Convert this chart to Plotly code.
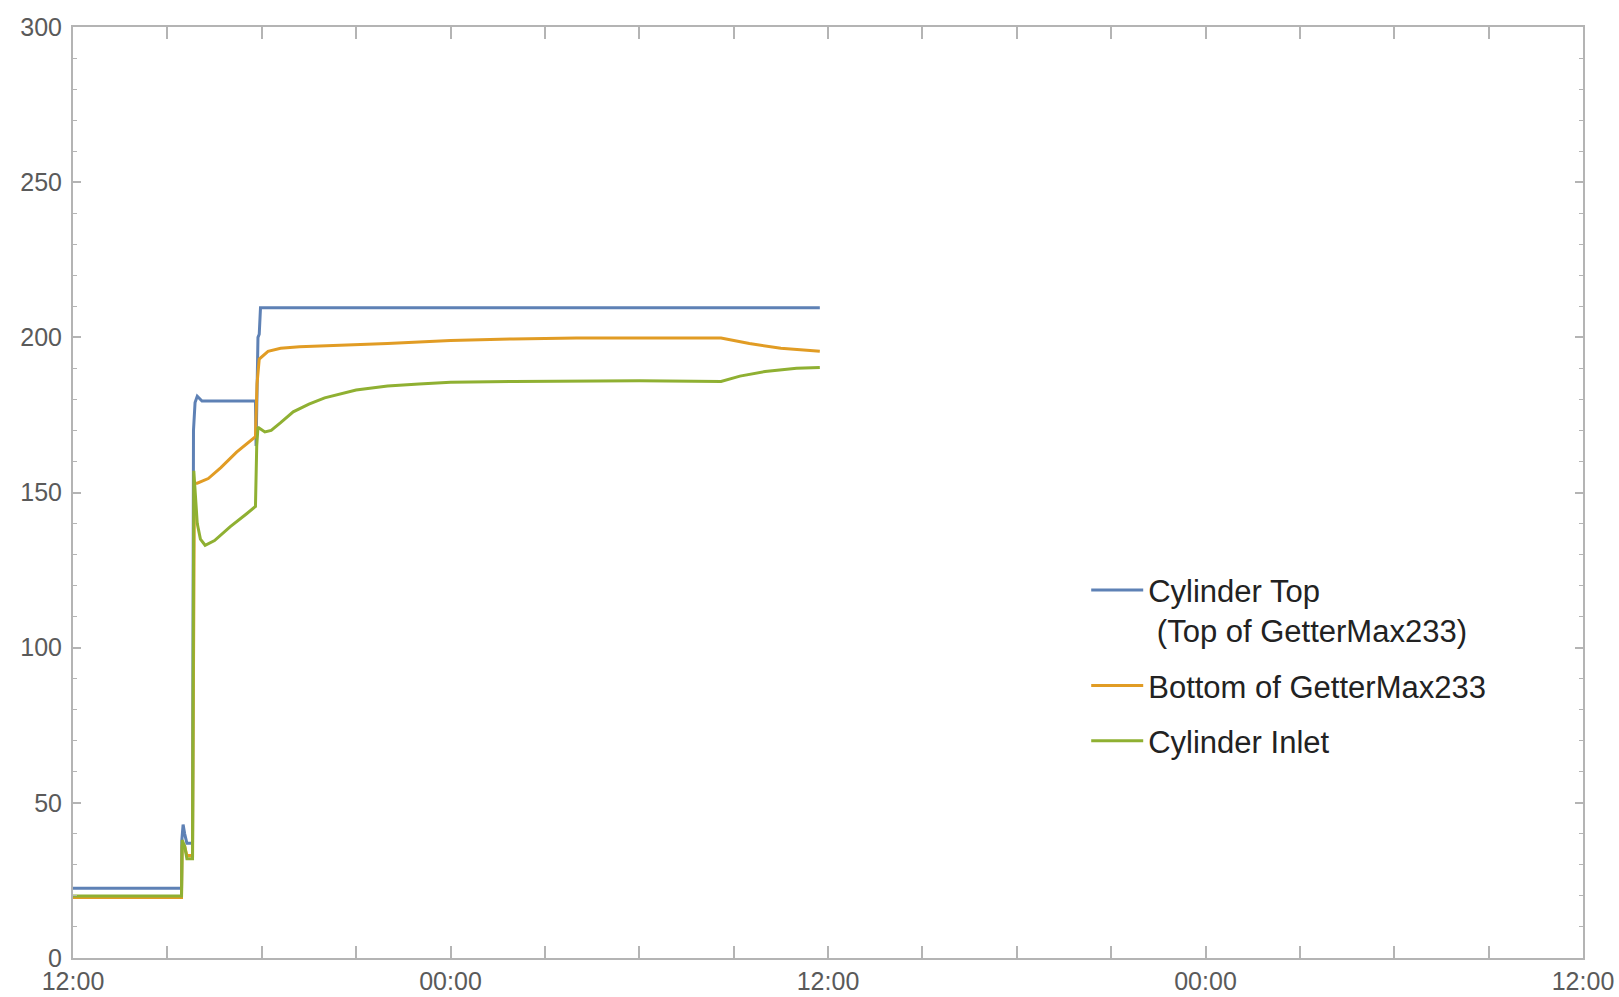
import pandas as pd
import plotly.graph_objects as go

base = pd.Timestamp("2000-01-01 12:00")

# Hours since 12:00 on day 1
top_h = [0, 3.45, 3.46, 3.50, 3.55, 3.62, 3.80, 3.83, 3.88, 3.95, 4.1, 5.80, 5.82, 5.88, 5.92, 5.96, 23.74]
top_v = [22.5, 22.5, 38, 43, 40, 37, 37, 170, 179, 181, 179.5, 179.5, 165, 200, 201, 209.5, 209.5]

bot_h = [0, 3.45, 3.47, 3.55, 3.62, 3.80, 3.86, 3.95, 4.3, 4.7, 5.2, 5.6, 5.80, 5.85, 5.92, 6.2, 6.6,
         7.2, 8, 9, 10, 11, 12, 14, 16, 18, 20.6, 21.5, 22.5, 23.74]
bot_v = [19.5, 19.5, 36, 36, 33, 33, 153, 153, 154.5, 158, 163, 166.5, 168, 185, 193, 195.5, 196.5,
         197, 197.3, 197.5, 198, 198.5, 199, 199.5, 199.8, 199.8, 199.8, 198, 196.5, 195.5]

inl_h = [0, 3.45, 3.47, 3.55, 3.62, 3.80, 3.84, 3.88, 3.95, 4.05, 4.2, 4.5, 5.0, 5.5, 5.80, 5.84, 5.88,
         6.1, 6.3, 6.6, 7, 7.5, 8, 9, 10, 11, 12, 14, 16, 18, 20.6, 21.2, 22, 23, 23.74]
inl_v = [20, 20, 38, 36, 32, 32, 157, 150, 140, 135, 133, 134.5, 139, 143, 145.5, 165, 171,
         169.5, 170, 172.5, 176, 178.5, 180.5, 183, 184.3, 185, 185.5, 185.8, 186, 186, 185.8, 187.5, 189, 190, 190.3]

names = ["Cylinder Top<br> (Top of GetterMax233)", "Bottom of GetterMax233", "Cylinder Inlet"]
colors = ["#5E81B5", "#E19C24", "#8FB032"]


def to_time(hours):
    return [base + pd.Timedelta(hours=h) for h in hours]


fig = go.Figure()
for i, (h, v, n, c) in enumerate([(top_h, top_v, names[0], colors[0]),
                                  (bot_h, bot_v, names[1], colors[1]),
                                  (inl_h, inl_v, names[2], colors[2])]):
    fig.add_trace(go.Scatter(x=to_time(h), y=v, mode="lines", name=n, legendgroup=f"g{i}",
                             line=dict(color=c, width=3)))

axis_col = "#b4b4b4"
tick_font = dict(family="Liberation Sans, Arial, sans-serif", size=25, color="#5a5a5a")

fig.update_layout(
    width=1619, height=997,
    paper_bgcolor="white", plot_bgcolor="white",
    margin=dict(l=73, r=36, t=27, b=39),
    showlegend=True,
    legend=dict(x=0.671, y=0.424, xanchor="left", yanchor="top",
                font=dict(family="Liberation Sans, Arial, sans-serif", size=31, color="#222222"),
                valign="top", tracegroupgap=12, itemwidth=52, bgcolor="rgba(0,0,0,0)"),
    xaxis=dict(
        type="date", automargin=False,
        range=[base, base + pd.Timedelta(hours=48)],
        tick0=base, dtick=12 * 3600 * 1000, tickformat="%H:%M",
        showgrid=False, zeroline=False,
        showline=True, linecolor=axis_col, linewidth=2, mirror="ticks",
        ticks="inside", ticklen=12, tickwidth=1.5, tickcolor=axis_col,
        minor=dict(dtick=3 * 3600 * 1000, tick0=base, ticks="inside", ticklen=12,
                   tickwidth=1.5, tickcolor=axis_col, showgrid=False),
        tickfont=tick_font, ticklabelstandoff=0,
    ),
    yaxis=dict(
        range=[0, 300], dtick=50, tick0=0, automargin=False,
        showgrid=False, zeroline=False,
        showline=True, linecolor=axis_col, linewidth=2, mirror="ticks",
        ticks="inside", ticklen=8, tickwidth=1.5, tickcolor=axis_col,
        minor=dict(dtick=10, ticks="inside", ticklen=4, tickwidth=1.2,
                   tickcolor=axis_col, showgrid=False),
        tickfont=tick_font, ticklabelstandoff=4,
    ),
)

fig.write_html("out.html", config={"displayModeBar": False},
               post_script="document.body.style.margin='0';document.body.style.overflow='hidden';")
